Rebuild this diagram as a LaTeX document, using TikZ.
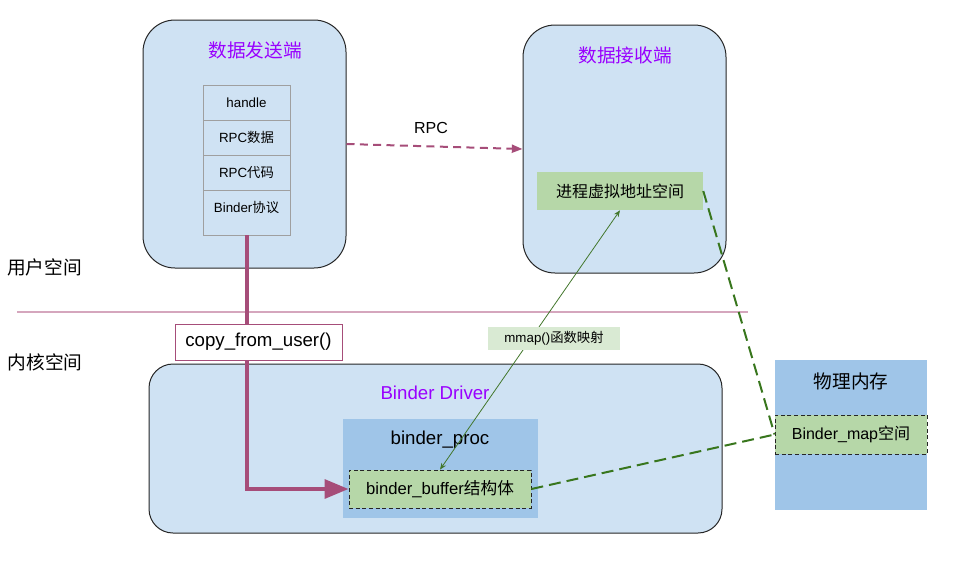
\documentclass[tikz,border=0pt]{standalone}
\usepackage{fontspec}
\setmainfont{Liberation Sans}
\newfontfamily\cjk{Noto Sans CJK SC}
\usetikzlibrary{positioning,calc,arrows.meta}
\definecolor{paleblue}{HTML}{CFE2F3}
\definecolor{midblue}{HTML}{9FC5E8}
\definecolor{leaf}{HTML}{B6D7A8}
\definecolor{mint}{HTML}{D9EAD3}
\definecolor{mauve}{HTML}{A64D79}
\definecolor{pinkline}{HTML}{D5A6BD}
\definecolor{deepgreen}{HTML}{38761D}
\definecolor{titleviolet}{HTML}{9900FF}
\newcommand{\fsize}[1]{\fontsize{#1}{#1}\selectfont}

\begin{document}
\begin{tikzpicture}[x=0.75pt,y=-0.75pt,
  region/.style={draw=black!85, fill=paleblue, line width=0.75pt, rounded corners=24pt, inner sep=0pt},
  title/.style={text=titleviolet, font=\fsize{14}},
  cell/.style={draw=gray!75, outer sep=0pt, minimum width=65.25pt, minimum height=26.25pt, inner sep=0pt, font=\fsize{10}},
  leafbox/.style={fill=leaf, inner sep=0pt},
  dashbox/.style={leafbox, draw=black!85, line width=0.6pt, dash pattern=on 3pt off 2pt},
  bluebox/.style={fill=midblue, inner sep=0pt},
  greendash/.style={draw=deepgreen, line width=1.5pt, dash pattern=on 9pt off 4.5pt},
  spacelabel/.style={font=\cjk\fsize{14}}]
  \useasboundingbox (0,0) rectangle (956,569);

  \coordinate (divl) at (17,312);
  \coordinate (divr) at (748,312);
  \draw[pinkline, line width=0.9pt] (divl) -- (divr);
  \node[spacelabel] (userspace) at (44.5,267) {用户空间};
  \node[spacelabel] (kernelspace) at (45,362) {内核空间};

  \node[region, minimum width=152.25pt, minimum height=186pt] (sender) at (244.5,144) {};
  \node[region, minimum width=152.25pt, minimum height=186pt] (receiver) at (624.5,149) {};
  \node[region, rounded corners=18pt, minimum width=429.75pt, minimum height=126.75pt] (driver) at (435.5,448.5) {};
  \node[title, font=\cjk\fsize{14}] (sendtitle) at (255,50) {数据发送端};
  \node[title, font=\cjk\fsize{14}] (recvtitle) at (625,55) {数据接收端};
  \node[title] (drivertitle) at (435,393) {Binder Driver};

  \node[cell] (handle) at (246.5,102.5) {handle};
  \node[cell, below=0pt of handle] (rpcdata) {RPC{\cjk 数据}};
  \node[cell, below=0pt of rpcdata] (rpccode) {RPC{\cjk 代码}};
  \node[cell, below=0pt of rpccode, minimum height=33.75pt, text depth=9pt] (proto) {Binder{\cjk 协议}};

  \node[leafbox, minimum width=124.5pt, minimum height=28.5pt, font=\cjk\fsize{12}] (vaddr) at (620,191) {进程虚拟地址空间};

  \node[bluebox, minimum width=146.25pt, minimum height=74.25pt] (proc) at (440.5,468.5) {};
  \node[font=\fsize{14}] (proctitle) at (440,440) {binder\_proc};
  \node[dashbox, minimum width=136.5pt, minimum height=28.5pt, font=\fsize{12.5}] (buf) at (440,489) {binder\_buffer{\cjk 结构体}};

  \node[bluebox, minimum width=114pt, minimum height=112.5pt] (phys) at (851,435) {};
  \node[font=\cjk\fsize{14}] (phystitle) at (851,381) {物理内存};
  \node[dashbox, minimum width=114pt, minimum height=29.25pt, font=\fsize{12}] (bmap) at (851,434.5) {Binder\_map{\cjk 空间}};

  \draw[mauve, line width=1.5pt, dash pattern=on 6pt off 4pt, -{Triangle[length=8pt,width=6pt]}] (sender.east) -- (receiver.west);
  \node[font=\fsize{12}] (rpclabel) at (431,128) {RPC};

  \draw[mauve, line width=3pt, -{Triangle[length=18pt,width=14pt]}] (proto.south) |- (buf.west);
  \node[draw=mauve, fill=white, line width=0.75pt, minimum width=125.25pt, minimum height=27pt, inner sep=0pt, font=\fsize{14}] (copy) at (258.5,342) {copy\_from\_user()};

  \draw[greendash] (vaddr.east) -- (bmap.west);
  \draw[greendash] (buf.east) -- (bmap.west);

  \draw[deepgreen!85!gray, line width=0.6pt, {Stealth[length=5pt,width=4pt]}-{Stealth[length=5pt,width=4pt]}] (buf.north) -- (vaddr.south);
  \node[fill=mint, minimum width=99pt, minimum height=17.25pt, inner sep=0pt, font=\fsize{10}] (maplabel) at (554,338.5) {mmap(){\cjk 函数映射}};
\end{tikzpicture}
\end{document}
